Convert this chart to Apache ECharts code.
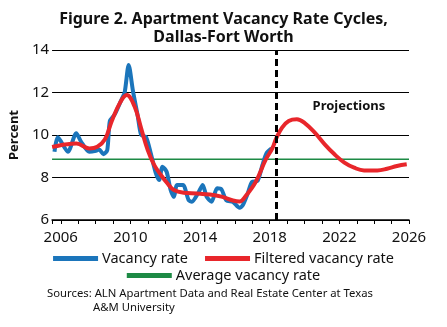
<!DOCTYPE html>
<html>
<head>
<meta charset="utf-8">
<script src="https://cdn.jsdelivr.net/npm/echarts@6/dist/echarts.min.js"></script>
<style>html,body{margin:0;padding:0;background:#fff}#c{width:447px;height:327px}</style>
</head>
<body>
<div id="c"></div>
<script>
// Vacancy rate (observed)
const vacancyYears = [2005.64,2005.83,2006.41,2006.89,2007.17,2007.64,2008.02,2008.2,2008.45,2008.67,2008.82,2009.1,2009.49,2009.67,2009.9,2010.14,2010.42,2010.62,2010.9,2011.18,2011.46,2011.65,2011.84,2012.08,2012.31,2012.5,2012.68,2013.02,2013.34,2013.53,2013.9,2014.15,2014.38,2014.66,2014.98,2015.23,2015.51,2015.89,2016.27,2016.45,2016.73,2016.98,2017.3,2017.58,2017.81,2018.11];
const vacancyValues = [9.21,9.89,9.21,10.08,9.68,9.21,9.26,9.32,9.10,9.29,10.66,10.97,11.67,12.0,13.3,12.1,10.9,10.0,9.9,9.1,8.2,7.88,8.51,8.27,7.41,7.09,7.65,7.65,6.94,6.86,7.28,7.65,7.09,6.86,7.49,7.44,6.92,6.85,6.58,6.69,7.23,7.79,7.84,8.58,9.13,9.37];
// Filtered vacancy rate (history + projection)
const filteredYears = [2005.5,2005.64,2006.2,2006.9,2007.64,2008.1,2008.54,2008.92,2009.39,2009.79,2010.24,2010.62,2010.99,2011.37,2011.75,2012.12,2012.5,2013.06,2013.81,2014.57,2015.23,2015.89,2016.27,2016.64,2017.2,2017.77,2018.15,2018.37,2018.71,2019.09,2019.56,2020.03,2020.59,2021.16,2021.72,2022.29,2022.85,2023.42,2024.18,2024.74,2025.31,2025.87];
const filteredValues = [9.44,9.46,9.55,9.6,9.37,9.45,9.8,10.64,11.5,11.88,11.34,10.3,9.3,8.58,8.12,7.73,7.41,7.28,7.25,7.2,7.1,6.92,6.87,7.15,7.8,8.84,9.37,9.83,10.35,10.66,10.74,10.55,10.11,9.56,9.09,8.7,8.46,8.33,8.33,8.41,8.54,8.62];
// Average vacancy rate
const averageYears = [2005.5, 2026];
const averageValues = [8.86, 8.86];
const projectionStart = 2018.4;
const xLabelYears = [2006, 2010, 2014, 2018, 2022, 2026];
const xTickYears = [2005.5,2006,2007,2008,2009,2010,2011,2012,2013,2014,2015,2016,2017,2018,2019,2020,2021,2022,2023,2024,2025,2026];
const seriesNames = ['Vacancy rate', 'Filtered vacancy rate', 'Average vacancy rate'];
const projectionLabel = {text: 'Projections', year: 2022.55, value: 11.35};

const FONT = 'Noto Sans';
const zip = (xs, ys) => xs.map((x, i) => [x, ys[i]]);
const chart = echarts.init(document.getElementById('c'), null, {renderer: 'canvas'});
chart.setOption({
  animation: false,
  textStyle: {fontFamily: FONT},
  title: {
    text: 'Figure 2. Apartment Vacancy Rate Cycles,\nDallas-Fort Worth',
    left: 'center', top: 5,
    textStyle: {fontFamily: FONT, fontSize: 16, fontWeight: 'bold', color: '#111', lineHeight: 18}
  },
  legend: [
    {data: [seriesNames[0], seriesNames[1]], top: 246, left: 'center', icon: 'rect', itemWidth: 45, itemHeight: 5, itemGap: 17,
     textStyle: {fontFamily: FONT, fontSize: 14.5, color: '#111', padding: [0,0,0,-1]}},
    {data: [seriesNames[2]], top: 263, left: 'center', icon: 'rect', itemWidth: 45, itemHeight: 5,
     textStyle: {fontFamily: FONT, fontSize: 14.5, color: '#111', padding: [0,0,0,-1]}}
  ],
  grid: {left: 46, right: 38, top: 50, bottom: 107},
  xAxis: {
    type: 'value', min: 2005.5, max: 2026,
    axisLine: {lineStyle: {color: '#000', width: 1.5}},
    axisTick: {customValues: xTickYears, length: 4, lineStyle: {color: '#000', width: 1}},
    axisLabel: {customValues: xLabelYears, formatter: v => String(v), fontSize: 15, color: '#111', margin: 10, fontFamily: FONT},
    splitLine: {show: false}
  },
  yAxis: {
    type: 'value', min: 6, max: 14, interval: 2,
    name: 'Percent', nameLocation: 'middle', nameRotate: 90, nameGap: 19,
    nameTextStyle: {fontFamily: FONT, fontSize: 13, fontWeight: 'bold', color: '#111'},
    axisLine: {show: false}, axisTick: {show: false},
    axisLabel: {fontSize: 15, color: '#111', margin: 3, fontFamily: FONT},
    splitLine: {lineStyle: {color: '#000', width: 1.2}}
  },
  series: [
    {name: seriesNames[0], type: 'line', data: zip(vacancyYears, vacancyValues), showSymbol: false, smooth: 0.25,
     lineStyle: {color: '#1b75bb', width: 4}, itemStyle: {color: '#1b75bb'}, z: 3},
    {name: seriesNames[1], type: 'line', data: zip(filteredYears, filteredValues), showSymbol: false, smooth: 0.4,
     lineStyle: {color: '#e8262b', width: 4}, itemStyle: {color: '#e8262b'}, z: 4,
     markLine: {silent: true, symbol: 'none', label: {show: false},
       lineStyle: {color: '#000', width: 3, type: [7, 4]}, data: [{xAxis: projectionStart}], z: 6},
     markPoint: {symbol: 'rect', symbolSize: 0, data: [{coord: [projectionLabel.year, projectionLabel.value]}],
       label: {show: true, formatter: projectionLabel.text, fontFamily: FONT, fontSize: 13, fontWeight: 'bold', color: '#111', position: 'inside'}}},
    {name: seriesNames[2], type: 'line', data: zip(averageYears, averageValues), showSymbol: false,
     lineStyle: {color: '#1d8a45', width: 1.3}, itemStyle: {color: '#1d8a45'}, z: 2}
  ],
  graphic: [
    {type: 'text', left: 47, top: 288, style: {text: 'Sources: ALN Apartment Data and Real Estate Center at Texas', font: '11.3px "Noto Sans"', fill: '#111'}},
    {type: 'text', left: 93, top: 302, style: {text: 'A&M University', font: '11.3px "Noto Sans"', fill: '#111'}}
  ]
});
</script>
</body>
</html>
